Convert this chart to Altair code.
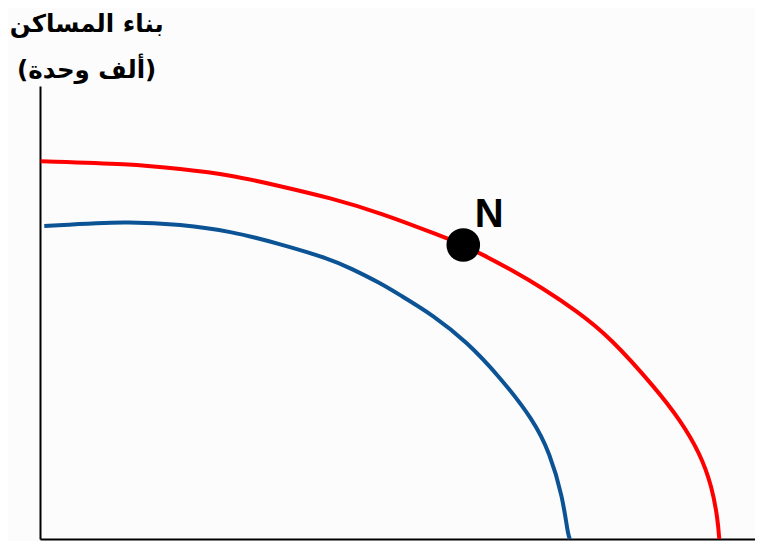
import altair as alt
import pandas as pd

# Production possibility curves (arbitrary units)
red_x = [0.1, 12.6, 19.6, 26.6, 33.6, 40.6, 47.6, 56.4, 59.2, 62.0, 65.7, 70.3, 75.1, 79.7, 86.3, 89.5, 92.3, 94.0, 94.8, 95.0]
red_y = [83.4, 82.8, 81.7, 80.4, 77.9, 75.3, 72.0, 66.7, 64.9, 62.7, 59.6, 55.4, 50.3, 44.6, 32.9, 26.3, 19.0, 11.5, 4.2, 0.0]

blue_x = [0.6, 12.6, 19.6, 26.6, 33.6, 40.6, 43.4, 47.6, 50.3, 55.0, 59.7, 64.3, 69.0, 71.3, 73.1, 73.8, 74.1]
blue_y = [69.1, 70.2, 69.4, 68.0, 65.1, 61.8, 59.8, 56.5, 53.9, 49.4, 43.5, 35.8, 26.3, 19.0, 9.3, 1.3, 0.0]

point_x = [59.2]
point_y = [64.9]
point_label = ["N"]

title_lines = ["بناء المساكن", "(ألف وحدة)"]

rows = []
for i, (x, y) in enumerate(zip(red_x, red_y)):
    rows.append({"series": "red", "i": i, "x": x, "y": y})
for i, (x, y) in enumerate(zip(blue_x, blue_y)):
    rows.append({"series": "blue", "i": i, "x": x, "y": y})
curves = pd.DataFrame(rows)
pts = pd.DataFrame({"x": point_x, "y": point_y, "label": point_label})

axis_style = dict(domainColor="black", domainWidth=2, ticks=False, labels=False, grid=False, title=None)
xs = alt.X("x:Q", scale=alt.Scale(domain=[0, 100], nice=False, zero=False), axis=alt.Axis(**axis_style))
ys = alt.Y("y:Q", scale=alt.Scale(domain=[0, 100], nice=False, zero=False), axis=alt.Axis(**axis_style))

lines = alt.Chart(curves).mark_line(strokeWidth=4, interpolate="basis").encode(
    x=xs,
    y=ys,
    color=alt.Color("series:N", scale=alt.Scale(domain=["red", "blue"], range=["#ff0000", "#0b5394"]), legend=None),
    order="i:Q",
)

dot = alt.Chart(pts).mark_circle(size=1130, color="black", opacity=1).encode(x=xs, y=ys)

label = alt.Chart(pts).mark_text(
    fontSize=40, fontWeight="bold", font="Liberation Sans", color="black",
    dx=26, dy=-18, align="center", baseline="alphabetic"
).encode(x=xs, y=ys, text="label:N")

chart = alt.layer(lines, dot, label).properties(
    width=715,
    height=453,
    title=alt.Title(
        text=title_lines, font="DejaVu Sans", fontSize=24.5, fontWeight="bold",
        anchor="start", align="center", dx=54, lineHeight=46, offset=3, color="black"
    ),
    autosize=alt.AutoSizeParams(type="none"),
    padding={"left": 32, "top": 78, "right": 0, "bottom": 2},
    background="#fcfcfc",
).configure_view(stroke=None)

chart.save("out.html", embed_options={"renderer": "svg", "actions": False})
